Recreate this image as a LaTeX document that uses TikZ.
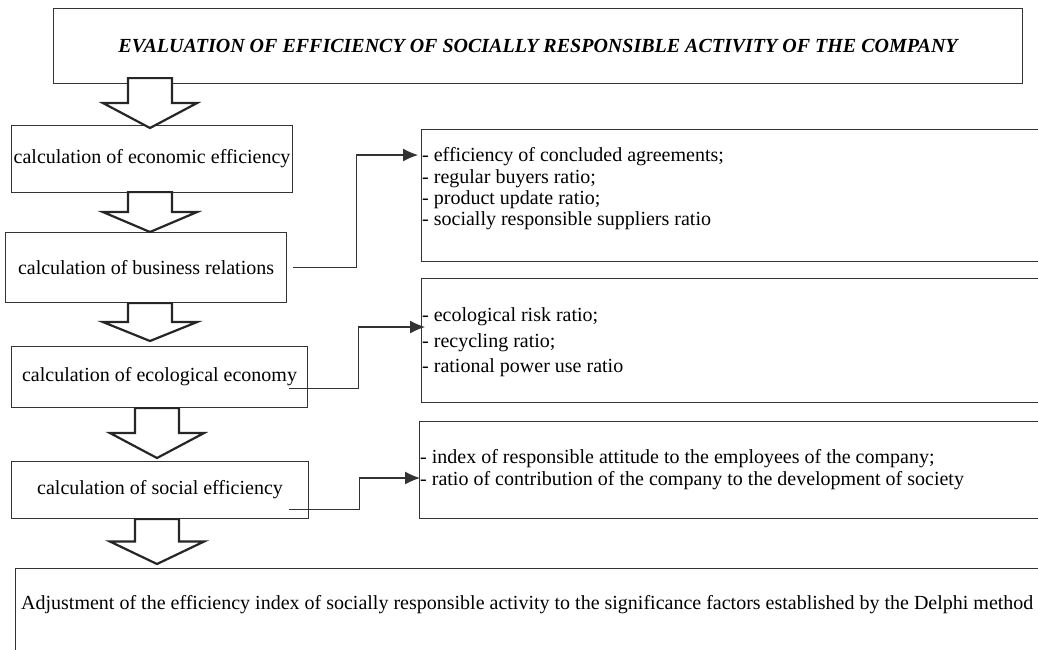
\documentclass[tikz,border=0pt]{standalone}
\usepackage{fontspec}
\setmainfont{Liberation Serif}
\usetikzlibrary{arrows.meta,calc,positioning}

\begin{document}
\begin{tikzpicture}[x=1pt, y=-1pt,
        stagebox/.style={draw=black!80, line width=1.1pt, inner sep=0pt, anchor=north west, font=\fontsize{20}{22}\selectfont},
        listbox/.style={draw=black!80, line width=1.1pt, anchor=north west, minimum width=660pt},
        listtext/.style={anchor=west, align=left, inner sep=0pt, font=\fontsize{20}{21.3}\selectfont},
        blockarrow/.style={draw=black!85, line width=2.2pt, fill=white, line join=miter},
        link/.style={draw=black!80, line width=1.1pt, -{Latex[length=15pt,width=13pt]}}]

        \useasboundingbox (0,0) rectangle (1038,649);
        \clip (0,0) rectangle (1038,649);

        % Hollow arrow from one stage down to the next
        \newcommand\flowarrow[5]{
            \coordinate (fa-s) at ($(#3,0 |- #1.south)+(0,#4)$);
            \coordinate (fa-e) at ($(#3,0 |- #2.north)+(0,#5)$);
            \draw[blockarrow] let \p1=(fa-s), \p2=(fa-e), \p3=($(fa-s)!0.5!(fa-e)$) in
                (\x1-22pt,\y1) -- (\x1+22pt,\y1) -- (\x1+22pt,\y3) -- (\x1+47pt,\y3)
                -- (\x2,\y2) -- (\x1-47pt,\y3) -- (\x1-22pt,\y3) -- cycle;
        }

        % Title
        \node[stagebox, minimum width=969pt, minimum height=75pt, font=\fontsize{20}{22}\selectfont\bfseries\itshape] (title) at (53,8)
            {EVALUATION OF EFFICIENCY OF SOCIALLY RESPONSIBLE ACTIVITY OF THE COMPANY};

        % Calculation stages
        \node[stagebox, minimum width=281pt, minimum height=67pt] (econ) at (11,125) {calculation of economic efficiency};
        \node[stagebox, minimum width=281pt, minimum height=70pt] (business) at (5,232) {calculation of business relations};
        \node[stagebox, minimum width=296pt, minimum height=61pt] (ecology) at (11,346) {calculation of ecological economy};
        \node[stagebox, minimum width=297pt, minimum height=57pt] (social) at (11,461) {calculation of social efficiency};

        % Ratios of each stage
        \node[listbox, minimum height=132pt] (bizlist) at (421,129) {};
        \node[listtext] (biztext) at ($(bizlist.north west)+(1,60)$)
            {- efficiency of concluded agreements;\\- regular buyers ratio;\\- product update ratio;\\- socially responsible suppliers ratio};

        \node[listbox, minimum height=124pt] (ecolist) at (421,278) {};
        \node[listtext, font=\fontsize{20}{25.5}\selectfont] (ecotext) at ($(ecolist.west)+(1,2)$)
            {- ecological risk ratio;\\- recycling ratio;\\- rational power use ratio};

        \node[listbox, minimum height=97pt] (soclist) at (419,421) {};
        \node[listtext, font=\fontsize{20}{22}\selectfont] (soctext) at ($(soclist.west)+(1,0)$)
            {- index of responsible attitude to the employees of the company;\\- ratio of contribution of the company to the development of society};

        % Final adjustment
        \node[listbox, minimum width=1040pt, minimum height=120pt] (adjust) at (15,568) {};
        \node[listtext] (adjusttext) at ($(adjust.north west)+(6,37)$)
            {Adjustment of the efficiency index of socially responsible activity to the significance factors established by the Delphi method};

        % Hollow arrows
        \flowarrow{title}{econ}{150}{-6}{3}
        \flowarrow{econ}{business}{150}{-1}{0}
        \flowarrow{business}{ecology}{150}{0}{-5}
        \flowarrow{ecology}{social}{157}{0}{-3}
        \flowarrow{social}{adjust}{157}{0}{-4}

        % Links to the ratios
        \coordinate (bizend) at ($(bizlist.north west)+(-3,26)$);
        \coordinate (ecoend) at ($(ecolist.north west)+(4,49)$);
        \coordinate (socend) at ($(soclist.north west)+(1,57)$);

        \draw[link] ($(business.east)+(6,0)$) -- ++(63,0) |- (bizend);
        \draw[link] ($(ecology.south east)+(-19,-20)$) -- ++(69,0) |- (ecoend);
        \draw[link] ($(social.south east)+(-20,-10)$) -- ++(70,0) |- (socend);

\end{tikzpicture}
\end{document}
